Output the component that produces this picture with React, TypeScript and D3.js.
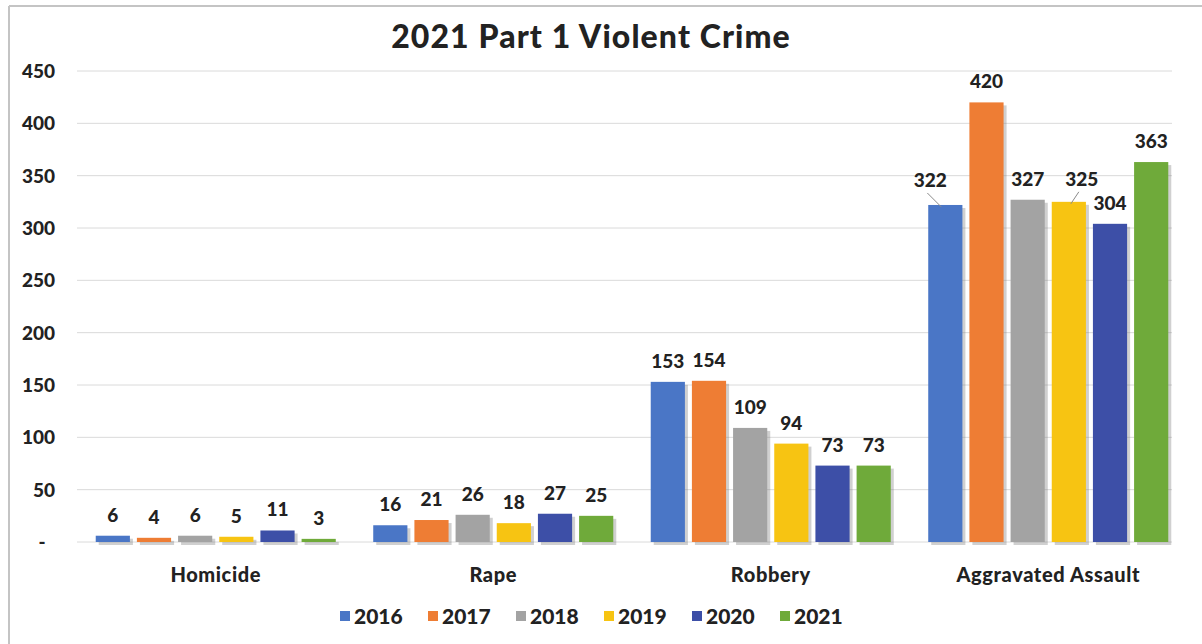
import React from "react";
import * as d3 from "d3";

const categories = ["Homicide", "Rape", "Robbery", "Aggravated Assault"];
const years = ["2016", "2017", "2018", "2019", "2020", "2021"];
const values2016 = [6, 16, 153, 322];
const values2017 = [4, 21, 154, 420];
const values2018 = [6, 26, 109, 327];
const values2019 = [5, 18, 94, 325];
const values2020 = [11, 27, 73, 304];
const values2021 = [3, 25, 73, 363];
const yTicks = [0, 50, 100, 150, 200, 250, 300, 350, 400, 450];
const title = "2021 Part 1 Violent Crime";

const seriesValues = [values2016, values2017, values2018, values2019, values2020, values2021];
const colors = ["#4A76C6", "#EE7D34", "#A3A3A3", "#F7C412", "#3D4FA7", "#6FAA3A"];

// label nudges for labels drawn with leader lines
const nudges: Record<string, [number, number]> = {
  "Aggravated Assault|2016": [-15, -4],
  "Aggravated Assault|2019": [13, -2],
};

const W = 1202;
const H = 644;
const FONT = "Lato, 'Open Sans', sans-serif";

export default function App() {
  const x0 = d3
    .scaleBand<string>()
    .domain(categories)
    .range([77, 1187])
    .paddingInner(0.135)
    .paddingOuter(0.0675);
  const x1 = d3.scaleBand<string>().domain(years).range([0, x0.bandwidth()]).paddingInner(0.17);
  const y = d3.scaleLinear().domain([0, 450]).range([542, 71]);

  const legendX = d3.scalePoint<string>().domain(years).range([340, 780]);

  return (
    <svg
      width={W}
      height={H}
      style={{ position: "absolute", left: 0, top: 0, background: "#fff" }}
      fontFamily={FONT}
    >
      <rect x={0} y={0} width={W} height={H} fill="#fff" />
      {/* chart border */}
      <line x1={9} y1={6} x2={W} y2={6} stroke="#c4c4c4" strokeWidth={2} />
      <line x1={9} y1={6} x2={9} y2={H} stroke="#c4c4c4" strokeWidth={2} />

      <text x={591} y={48} textAnchor="middle" fontSize={32} fontWeight={900} letterSpacing={1.1} fill="#222">
        {title}
      </text>

      {/* gridlines */}
      {yTicks.map((t) => (
        <line key={t} x1={77} x2={1172} y1={y(t)} y2={y(t)} stroke="#dadada" strokeWidth={1} />
      ))}
      {/* y tick labels */}
      {yTicks.map((t) => (
        <text
          key={"l" + t}
          x={t === 0 ? 42 : 55}
          y={y(t) + 7}
          textAnchor={t === 0 ? "middle" : "end"}
          fontSize={19}
          fontWeight={900}
          fill="#222"
        >
          {t === 0 ? "-" : t}
        </text>
      ))}

      {/* bars */}
      {categories.map((c, ci) => (
        <g key={c} transform={`translate(${x0(c)},0)`}>
          {years.map((yr, si) => {
            const v = seriesValues[si][ci];
            const bx = x1(yr)!;
            const bw = x1.bandwidth();
            const top = y(v);
            return (
              <g key={yr}>
                <rect x={bx + 3} y={top + 3} width={bw} height={y(0) - top} fill="#777" opacity={0.35} />
                <rect x={bx} y={top} width={bw} height={y(0) - top} fill={colors[si]} />
              </g>
            );
          })}
        </g>
      ))}

      {/* data labels */}
      {categories.map((c, ci) =>
        years.map((yr, si) => {
          const v = seriesValues[si][ci];
          const cx = x0(c)! + x1(yr)! + x1.bandwidth() / 2;
          const top = y(v);
          const n = nudges[c + "|" + yr];
          const lx = cx + (n ? n[0] : 0);
          const ly = top - 14 + (n ? n[1] : 0);
          return (
            <g key={c + yr}>
              {n && (
                <line
                  x1={lx - 3}
                  y1={ly + 6}
                  x2={n[0] < 0 ? cx - 4 : cx + 2}
                  y2={top + 2}
                  stroke="#8a8a8a"
                  strokeWidth={1}
                />
              )}
              <text x={lx} y={ly} textAnchor="middle" fontSize={19} fontWeight={900} fill="#222">
                {v}
              </text>
            </g>
          );
        })
      )}

      {/* category labels */}
      {categories.map((c) => (
        <text
          key={"c" + c}
          x={x0(c)! + x0.bandwidth() / 2}
          y={582}
          textAnchor="middle"
          fontSize={20}
          fontWeight={900}
          letterSpacing={0.6}
          fill="#222"
        >
          {c}
        </text>
      ))}

      {/* legend */}
      {years.map((yr, i) => (
        <g key={"lg" + yr} transform={`translate(${legendX(yr)},617)`}>
          <rect x={0} y={-6} width={10} height={10} fill={colors[i]} />
          <text x={14} y={7} fontSize={21} fontWeight={900} fill="#222">
            {yr}
          </text>
        </g>
      ))}
    </svg>
  );
}
